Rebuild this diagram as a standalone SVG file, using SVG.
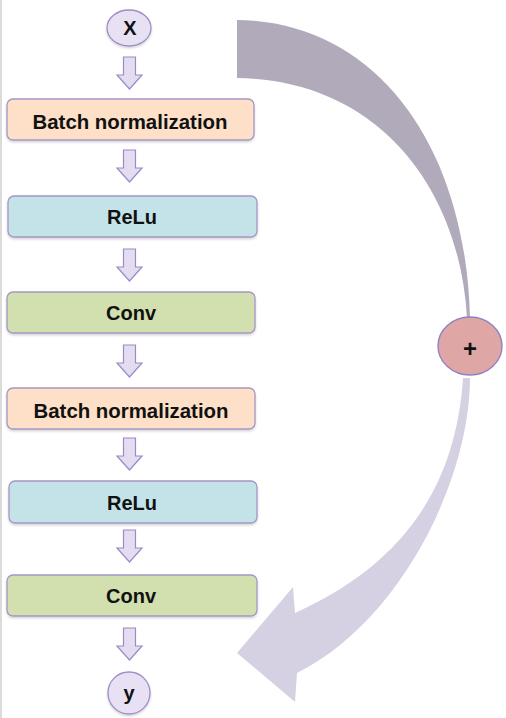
<svg xmlns="http://www.w3.org/2000/svg" xmlns:xlink="http://www.w3.org/1999/xlink" width="506" height="718" viewBox="0 0 506 718">
<style>
.lbl{font-family:"Liberation Sans","DejaVu Sans",sans-serif;font-weight:bold;font-size:20px;fill:#111;text-anchor:middle}
.box{stroke:#a597c6;stroke-width:1.3}
.bn{fill:#fde0c7}
.relu{fill:#c4e3e9}
.conv{fill:#d2dfae}
.io{fill:#e8e1f3;stroke:#9d8ec6;stroke-width:1.3}
.step{fill:#e4ddf1;stroke:#9b8ac6;stroke-width:1.2}
</style>
<defs>
<path id="dn" d="M123.5,0 H135.5 V18 H142 L129.5,32 L117,18 H123.5 Z"/>
<filter id="sh" x="-5%" y="-10%" width="110%" height="130%">
<feDropShadow dx="0" dy="1.5" stdDeviation="1" flood-color="#000" flood-opacity="0.18"/>
</filter>
</defs>
<rect x="0" y="0" width="506" height="718" fill="#fff"/>
<line x1="1" y1="0" x2="1" y2="718" stroke="#cfcfcf" stroke-width="1.5"/>
<g id="connectors">
<path d="M237,20 C380,22 466,150 470,318 L467,318 C460,190 380,80 237,78 Z" fill="#b1aaba"/>
<path d="M470,378 C470,480 400,622 297,673 L295,702 L237,653 L293,587 L295,613 C390,570 455,500 463,378 Z" fill="#d6d0e3"/>
<use xlink:href="#dn" class="step" y="57"/>
<use xlink:href="#dn" class="step" y="150"/>
<use xlink:href="#dn" class="step" y="249"/>
<use xlink:href="#dn" class="step" y="345"/>
<use xlink:href="#dn" class="step" y="438"/>
<use xlink:href="#dn" class="step" y="530"/>
<use xlink:href="#dn" class="step" y="628"/>
</g>
<g id="x">
<ellipse class="io" cx="129" cy="28" rx="22" ry="18" filter="url(#sh)"/>
<text class="lbl" x="130" y="35">X</text>
</g>
<g id="bn1">
<rect class="box bn" x="7" y="99" width="247" height="41" rx="6" filter="url(#sh)"/>
<text class="lbl" x="130" y="129" textLength="195" lengthAdjust="spacingAndGlyphs">Batch normalization</text>
</g>
<g id="relu1">
<rect class="box relu" x="8" y="196" width="249" height="41" rx="6" filter="url(#sh)"/>
<text class="lbl" x="132" y="224">ReLu</text>
</g>
<g id="conv1">
<rect class="box conv" x="7" y="292" width="248" height="41" rx="6" filter="url(#sh)"/>
<text class="lbl" x="131" y="320">Conv</text>
</g>
<g id="bn2">
<rect class="box bn" x="7" y="388" width="248" height="41" rx="6" filter="url(#sh)"/>
<text class="lbl" x="131" y="418" textLength="195" lengthAdjust="spacingAndGlyphs">Batch normalization</text>
</g>
<g id="relu2">
<rect class="box relu" x="9" y="481" width="248" height="42" rx="6" filter="url(#sh)"/>
<text class="lbl" x="132" y="510">ReLu</text>
</g>
<g id="conv2">
<rect class="box conv" x="7" y="575" width="250" height="41" rx="6" filter="url(#sh)"/>
<text class="lbl" x="131" y="603">Conv</text>
</g>
<g id="y">
<ellipse class="io" cx="129" cy="693" rx="21" ry="21" filter="url(#sh)"/>
<text class="lbl" x="129" y="700">y</text>
</g>
<g id="plus">
<ellipse cx="470" cy="346" rx="32" ry="29" fill="#dea6a5" stroke="#9281c2" stroke-width="1.4"/>
<text class="lbl" x="470" y="357" style="font-size:24px">+</text>
</g>
</svg>
